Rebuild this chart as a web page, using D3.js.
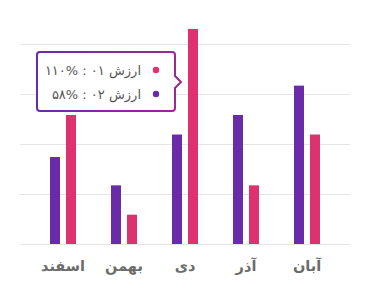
<!DOCTYPE html>
<html>
  <head>
    <meta charset="utf-8" />
    <script src="https://cdn.jsdelivr.net/npm/d3@7/dist/d3.min.js"></script>
    <style>
      body { margin: 0; background: #fff; }
      text { font-family: 'DejaVu Sans', sans-serif; }
    </style>
  </head>
  <body>
    <svg id="chart" width="370" height="300"></svg>
    <script>
      // categories, right to left
      var months = ['آبان', 'آذر', 'دی', 'بهمن', 'اسفند'];
      var seriesNames = ['ارزش ۰۲', 'ارزش ۰۱'];
      var values02 = [81, 66, 56, 30, 44.5];
      var values01 = [56, 30, 110, 15, 66];
      var seriesColors = ['#6a2ba8', '#dd3170'];
      // tooltip shown for دی
      var tipLabels = ['ارزش ۰۱', 'ارزش ۰۲'];
      var tipValues = ['۱۱۰%', '۵۸%'];
      var tipColors = ['#dd3170', '#6a2ba8'];

      var svg = d3.select('#chart');
      var yMax = 102.3;

      var x0 = d3.scaleBand().domain(months).range([337.5, 32.5]);
      var x1 = d3.scaleBand().domain([0, 1]).range([-13, 13]).paddingInner(0.375);
      var y = d3.scaleLinear().domain([0, yMax]).range([244, 44]);

      // grid
      svg.append('g')
        .selectAll('line')
        .data(d3.range(5).map(function(i) { return i * yMax / 4; }))
        .enter().append('line')
        .attr('x1', 20).attr('x2', 350)
        .attr('y1', function(d) { return y(d) + 0.5; })
        .attr('y2', function(d) { return y(d) + 0.5; })
        .attr('stroke', '#e5e5e5')
        .attr('stroke-width', 1);

      var data = months.map(function(m, i) {
        return { month: m, vals: [values02[i], values01[i]] };
      });

      var groups = svg.append('g').selectAll('g')
        .data(data)
        .enter().append('g')
        .attr('transform', function(d) {
          return 'translate(' + (x0(d.month) + x0.bandwidth() / 2) + ',0)';
        });

      groups.selectAll('rect')
        .data(function(d) { return d.vals; })
        .enter().append('rect')
        .attr('x', function(d, i) { return x1(i); })
        .attr('width', x1.bandwidth())
        .attr('y', function(d) { return y(d); })
        .attr('height', function(d) { return y(0) - y(d); })
        .attr('fill', function(d, i) { return seriesColors[i]; });

      // x axis labels
      svg.append('g').selectAll('text')
        .data(months)
        .enter().append('text')
        .attr('x', function(d) { return x0(d) + x0.bandwidth() / 2; })
        .attr('y', 271)
        .attr('text-anchor', 'middle')
        .attr('fill', '#6b6b6b')
        .style('font-size', '14.5px')
        .style('font-weight', 'bold')
        .text(function(d) { return d; });

      // tooltip
      var defs = svg.append('defs');
      var grad = defs.append('linearGradient').attr('id', 'tipBorder')
        .attr('x1', '0%').attr('x2', '100%');
      grad.append('stop').attr('offset', '0%').attr('stop-color', '#6a2ba8');
      grad.append('stop').attr('offset', '100%').attr('stop-color', '#9a2a90');

      var tx = 37, ty = 52, tw = 138, th = 59, r = 3;
      var tipPath = 'M' + (tx + r) + ',' + ty +
        'H' + (tx + tw - r) + 'Q' + (tx + tw) + ',' + ty + ' ' + (tx + tw) + ',' + (ty + r) +
        'V' + (ty + 24) + 'L' + (tx + tw + 6) + ',' + (ty + 30) + 'L' + (tx + tw) + ',' + (ty + 36) +
        'V' + (ty + th - r) + 'Q' + (tx + tw) + ',' + (ty + th) + ' ' + (tx + tw - r) + ',' + (ty + th) +
        'H' + (tx + r) + 'Q' + tx + ',' + (ty + th) + ' ' + tx + ',' + (ty + th - r) +
        'V' + (ty + r) + 'Q' + tx + ',' + ty + ' ' + (tx + r) + ',' + ty + 'Z';
      svg.append('path')
        .attr('d', tipPath)
        .attr('fill', '#fff')
        .attr('stroke', 'url(#tipBorder)')
        .attr('stroke-width', 2);

      tipLabels.forEach(function(t, i) {
        svg.append('circle')
          .attr('cx', 156).attr('cy', 70 + i * 24)
          .attr('r', 3.2)
          .attr('fill', tipColors[i]);
        svg.append('text')
          .attr('x', 141).attr('y', 75 + i * 24)
          .attr('direction', 'rtl')
          .attr('text-anchor', 'start')
          .attr('fill', '#555')
          .style('font-size', '13px')
          .text(t + ' : \u2066' + tipValues[i] + '\u2069');
      });
    </script>
  </body>
</html>
